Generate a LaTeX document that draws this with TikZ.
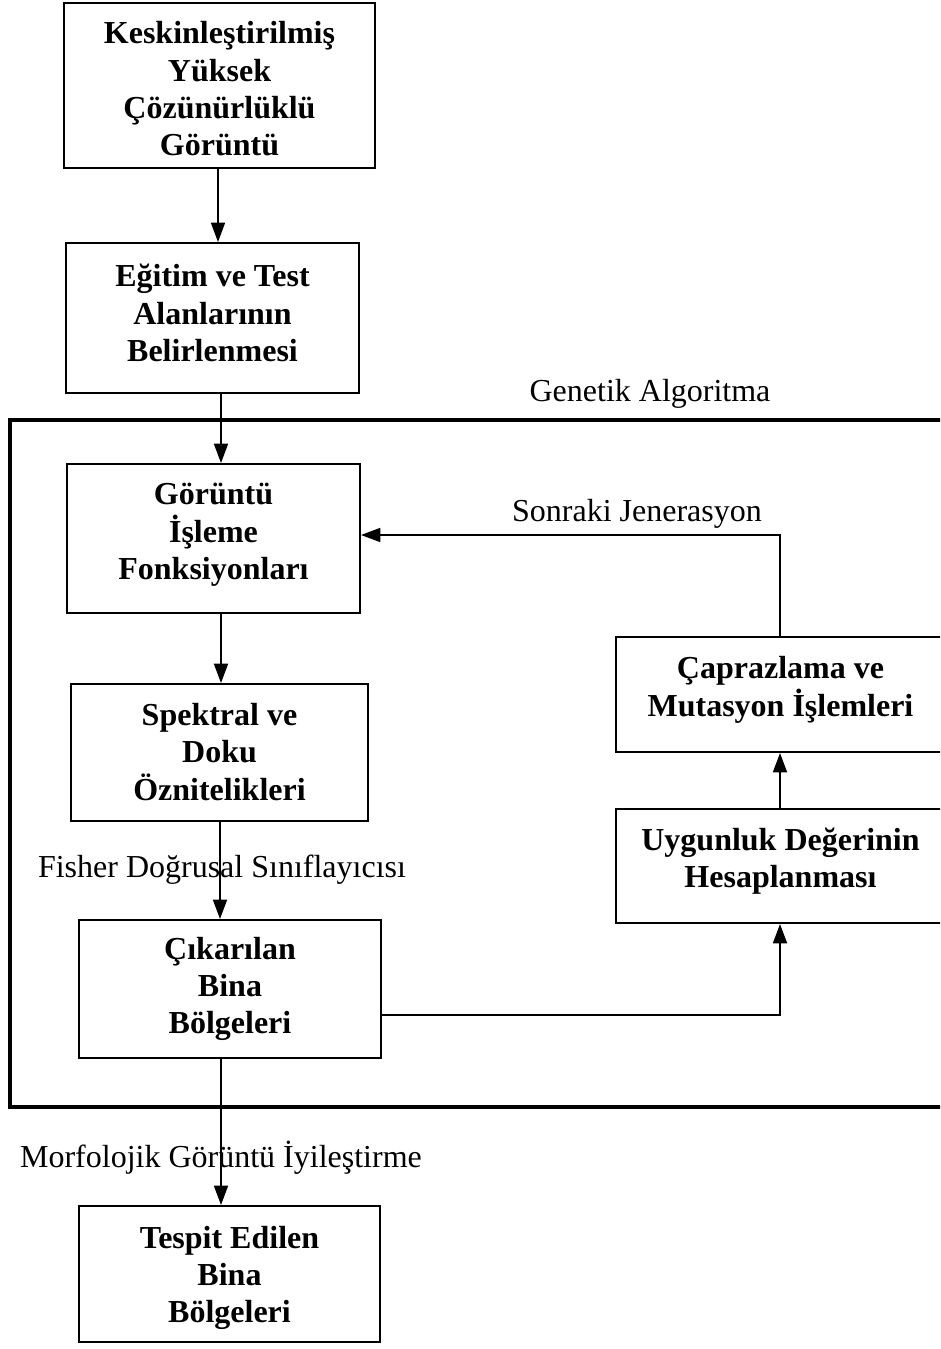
\documentclass[tikz,border=0pt]{standalone}
\usepackage{fontspec}
\setmainfont{Liberation Serif}
\usetikzlibrary{arrows.meta}
\begin{document}
\begin{tikzpicture}[x=0.75pt,y=-0.75pt,
  box/.style={draw,line width=1.5pt,rectangle,inner sep=0pt},
  txt/.style={inner sep=0pt,align=center,font=\fontsize{24}{28}\selectfont\bfseries},
  lbl/.style={font=\fontsize{24}{28}\selectfont,inner sep=0pt},
  arr/.style={line width=1.3pt,-{Triangle[length=14.5pt,width=10.5pt]}},
  ln/.style={line width=1.3pt}]
\useasboundingbox (0,0) rectangle (940,1349);
\clip (0,0) rectangle (940,1349);
% outer frame
\draw[line width=3.5pt] (10,420) rectangle (960,1107);
\node[lbl] (ga) at (650,394) {Genetik Algoritma};
% boxes
\node[box,minimum width=233.25pt,minimum height=123.75pt] (b1) at (219.5,85.5) {};
\node[txt] (t1) at (219.5,89) {Keskinleştirilmiş\\Yüksek\\Çözünürlüklü\\Görüntü};
\node[box,minimum width=219.75pt,minimum height=112.5pt] (b2) at (212.5,318) {};
\node[txt] (t2) at (212.5,313) {Eğitim ve Test\\Alanlarının\\Belirlenmesi};
\node[box,minimum width=219.75pt,minimum height=111.75pt] (b3) at (213.5,538.5) {};
\node[txt] (t3) at (213.5,535) {Görüntü\\İşleme\\Fonksiyonları};
\node[box,minimum width=222.75pt,minimum height=102.75pt] (b4) at (219.5,752.5) {};
\node[txt] (t4) at (219.5,752) {Spektral ve\\Doku\\Öznitelikleri};
\node[box,minimum width=226.5pt,minimum height=103.5pt] (b5) at (230,989) {};
\node[txt] (t5) at (230,989) {Çıkarılan\\Bina\\Bölgeleri};
\node[box,minimum width=225.75pt,minimum height=102pt] (b6) at (229.5,1274) {};
\node[txt] (t6) at (229.5,1278) {Tespit Edilen\\Bina\\Bölgeleri};
\node[box,minimum width=246.75pt,minimum height=85.5pt] (b7) at (780.5,866) {};
\node[txt] (t7) at (780.5,861) {Uygunluk Değerinin\\Hesaplanması};
\node[box,minimum width=246.75pt,minimum height=86.25pt] (b8) at (780.5,694.5) {};
\node[txt] (t8) at (780.5,690) {Çaprazlama ve\\Mutasyon İşlemleri};
% labels
\node[lbl] (l1) at (637,514) {Sonraki Jenerasyon};
\node[lbl] (l2) at (222,870) {Fisher Doğrusal Sınıflayıcısı};
\node[lbl] (l3) at (221,1158) {Morfolojik Görüntü İyileştirme};
% x positions of connectors
\coordinate (xa) at (218,0);
\coordinate (xb) at (221,0);
\coordinate (xc) at (220,0);
\coordinate (xr) at (780,0);
\coordinate (yj) at (0,535);
\coordinate (yc) at (0,1015);
% connectors
\draw[arr] (b1.south -| xa) -- (b2.north -| xa);
\draw[arr] (b2.south -| xb) -- (b3.north -| xb);
\draw[arr] (b3.south -| xb) -- (b4.north -| xb);
\draw[arr] (b4.south -| xc) -- (b5.north -| xc);
\draw[arr] (b5.south -| xb) -- (b6.north -| xb);
\draw[arr] (b5.east |- yc) -- (xr |- yc) -- (b7.south -| xr);
\draw[arr] (b7.north -| xr) -- (b8.south -| xr);
\draw[arr] (b8.north -| xr) -- (xr |- yj) -- (b3.east |- yj);
\end{tikzpicture}
\end{document}
